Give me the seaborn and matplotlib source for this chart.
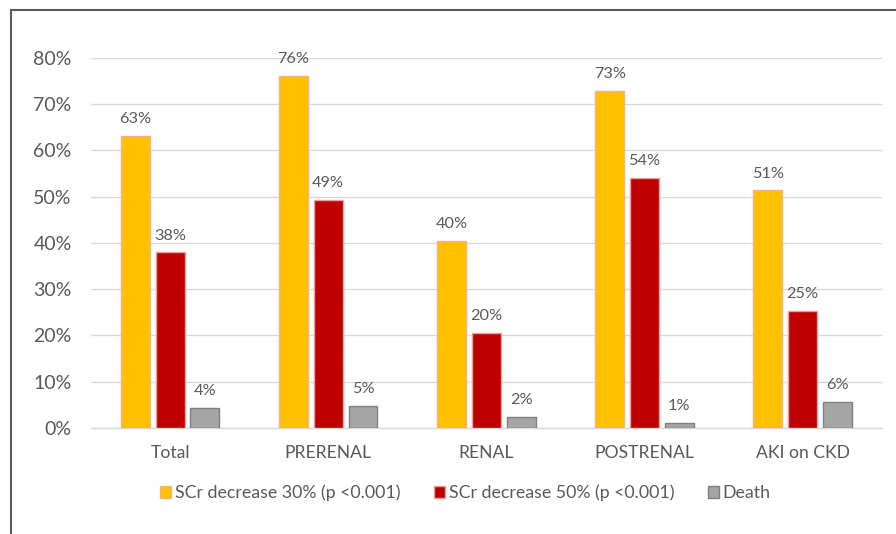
import matplotlib
matplotlib.use("Agg")
import matplotlib.pyplot as plt
import matplotlib.patches as mpatches
from matplotlib.lines import Line2D
import pandas as pd
import seaborn as sns

# Categories and series values (fractions)
categories = ["Total", "PRERENAL", "RENAL", "POSTRENAL", "AKI on CKD"]
scr_30 = [0.632, 0.761, 0.404, 0.729, 0.514]
scr_50 = [0.380, 0.493, 0.205, 0.541, 0.253]
death = [0.044, 0.048, 0.024, 0.011, 0.056]
series_names = ["SCr decrease 30% (p <0.001)", "SCr decrease 50% (p <0.001)", "Death"]
y_ticks = [0, 0.1, 0.2, 0.3, 0.4, 0.5, 0.6, 0.7, 0.8]

colors = ["#FFC000", "#C00000", "#A5A5A5"]
edges = ["#F4B183", "#E8A0A0", "#7F7F7F"]
text_color = "#595959"

df = pd.DataFrame({
    "category": categories * 3,
    "series": [series_names[0]] * 5 + [series_names[1]] * 5 + [series_names[2]] * 5,
    "value": scr_30 + scr_50 + death,
})

sns.set_theme(style="white")
plt.rcParams["font.family"] = ["Lato", "DejaVu Sans"]

fig = plt.figure(figsize=(8.96, 5.34), dpi=100)
ax = fig.add_axes([0.1016, 0.1985, 0.8824, 0.6929])

sns.barplot(data=df, x="category", y="value", hue="series", order=categories,
            hue_order=series_names, palette=colors, saturation=1, width=0.66, gap=0.17,
            errorbar=None, ax=ax, legend=False, zorder=3)

# Per-series edge colors and value labels
for container, ec in zip(ax.containers, edges):
    for bar in container:
        bar.set_edgecolor(ec)
        bar.set_linewidth(1.0)
    ax.bar_label(container, labels=[f"{b.get_height():.0%}" for b in container],
                 padding=7, fontsize=11.7, color=text_color)

ax.set_ylim(0, 0.8)
ax.set_xlim(-0.5, 4.5)
ax.set_yticks(y_ticks)
ax.set_yticklabels([f"{t:.0%}" for t in y_ticks], fontsize=14, color=text_color)
ax.tick_params(axis="x", labelsize=12.6, colors=text_color, length=0, pad=12)
ax.tick_params(axis="y", length=0, pad=14)
ax.set_xlabel("")
ax.set_ylabel("")
ax.yaxis.grid(True, color="#D9D9D9", linewidth=1.0, zorder=0)
ax.set_axisbelow(True)
for side in ["left", "right", "top"]:
    ax.spines[side].set_visible(False)
ax.spines["bottom"].set_color("#D9D9D9")
ax.spines["bottom"].set_linewidth(1.0)

handles = [mpatches.Patch(facecolor=c, edgecolor=e, linewidth=1.0) for c, e in zip(colors, edges)]
fig.legend(handles, series_names, loc="center", bbox_to_anchor=(0.5195, 0.077),
           ncol=3, frameon=False, fontsize=12.8, labelcolor=text_color,
           handlelength=0.62, handleheight=0.62, handletextpad=0.2, columnspacing=1.9)

# Chart frame (left and top edges visible)
fig.add_artist(Line2D([11 / 896, 11 / 896], [0, 1 - 10 / 534], transform=fig.transFigure,
                      color="#595959", linewidth=1.5))
fig.add_artist(Line2D([11 / 896, 1], [1 - 10 / 534, 1 - 10 / 534], transform=fig.transFigure,
                      color="#595959", linewidth=1.5))

fig.savefig("out.png", dpi=100)
